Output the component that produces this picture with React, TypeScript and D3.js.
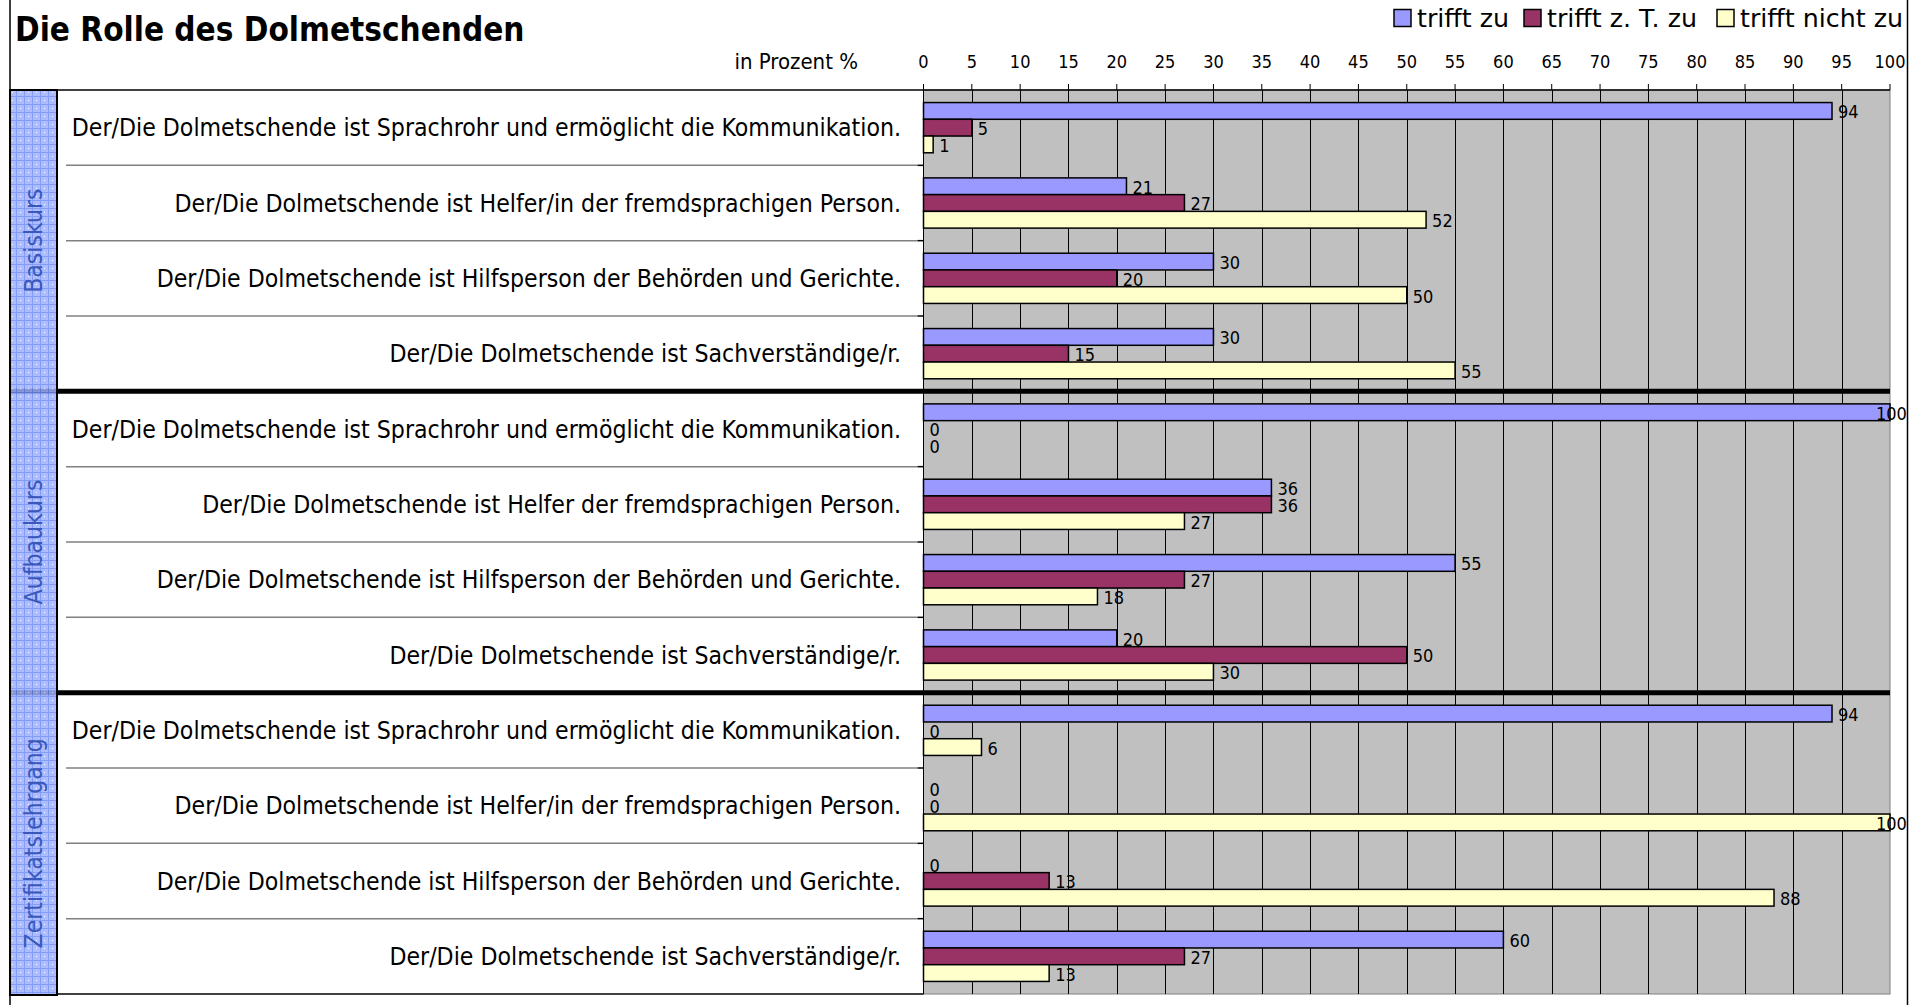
import { useEffect } from 'react';
import * as d3 from 'd3';

const sections = ['Basiskurs', 'Aufbaukurs', 'Zertifikatslehrgang'];

const statements = [
  'Der/Die Dolmetschende ist Sprachrohr und ermöglicht die Kommunikation.',
  'Der/Die Dolmetschende ist Helfer/in der fremdsprachigen Person.',
  'Der/Die Dolmetschende ist Hilfsperson der Behörden und Gerichte.',
  'Der/Die Dolmetschende ist Sachverständige/r.',
  'Der/Die Dolmetschende ist Sprachrohr und ermöglicht die Kommunikation.',
  'Der/Die Dolmetschende ist Helfer der fremdsprachigen Person.',
  'Der/Die Dolmetschende ist Hilfsperson der Behörden und Gerichte.',
  'Der/Die Dolmetschende ist Sachverständige/r.',
  'Der/Die Dolmetschende ist Sprachrohr und ermöglicht die Kommunikation.',
  'Der/Die Dolmetschende ist Helfer/in der fremdsprachigen Person.',
  'Der/Die Dolmetschende ist Hilfsperson der Behörden und Gerichte.',
  'Der/Die Dolmetschende ist Sachverständige/r.',
];

const trifftZu = [94, 21, 30, 30, 100, 36, 55, 20, 94, 0, 0, 60];
const trifftZT = [5, 27, 20, 15, 0, 36, 27, 50, 0, 0, 13, 27];
const trifftNicht = [1, 52, 50, 55, 0, 27, 18, 30, 6, 100, 88, 13];

const seriesNames = ['trifft zu', 'trifft z. T. zu', 'trifft nicht zu'];
const seriesColors = ['#9999ff', '#993366', '#ffffcc'];
const seriesValues = [trifftZu, trifftZT, trifftNicht];

const ticks = d3.range(0, 101, 5);

const W = 1923;
const H = 1005;
const FONT = '"DejaVu Sans Condensed", "DejaVu Sans", sans-serif';
const FONT_WIDE = '"DejaVu Sans", sans-serif';

export default function App() {
  useEffect(() => {
    document.body.style.margin = '0';
  }, []);

  const plotLeft = 923.5;
  const plotRight = 1890;
  const plotTop = 90;
  const plotBottom = 994;
  const bandLeft = 10;
  const bandRight = 57;

  const x = d3.scaleLinear().domain([0, 100]).range([plotLeft, plotRight]);
  const rows = d3.scaleBand<number>().domain(d3.range(statements.length)).range([plotTop, plotBottom]);
  const inner = d3.scaleBand<number>().domain([0, 1, 2]).range([0, rows.bandwidth()]).paddingOuter(0.75);
  const perSection = statements.length / sections.length;
  const sectionY = (s: number) => rows(s * perSection)!;

  const legendX = [1394, 1524, 1717];

  return (
    <svg width={W} height={H} style={{ display: 'block', fontFamily: FONT }}>
      <defs>
        <pattern id="band" width="8" height="8" patternUnits="userSpaceOnUse">
          <rect width="8" height="8" fill="#9db0ff" />
          <path d="M0 0.5H8M0.5 0V8" stroke="#6f8cf2" strokeWidth="1" />
          <rect x="4" y="4" width="1" height="1" fill="#ffffff" />
        </pattern>
      </defs>
      <rect width={W} height={H} fill="#fff" />

      {/* frame */}
      <line x1={10} x2={10} y1={0} y2={H} stroke="#000" strokeWidth={1.5} />
      <line x1={1907.5} x2={1907.5} y1={0} y2={H} stroke="#000" strokeWidth={1.5} />

      {/* title */}
      <text x={15} y={41} fontSize={33} fontWeight="bold" fill="#000">Die Rolle des Dolmetschenden</text>

      {/* legend */}
      {seriesNames.map((n, i) => (
        <g key={n}>
          <rect x={legendX[i]} y={9.5} width={17} height={17} fill={seriesColors[i]} stroke="#000" strokeWidth={1.5} />
          <text x={legendX[i] + 23} y={27} fontSize={25.3} fontFamily={FONT_WIDE} fill="#000">{n}</text>
        </g>
      ))}

      {/* axis header */}
      <text x={858} y={69} fontSize={22} textAnchor="end" fill="#000">in Prozent %</text>
      {ticks.map(t => (
        <g key={t}>
          <text x={x(t)} y={68} fontSize={18} textAnchor="middle" fill="#000">{t}</text>
          <line x1={x(t)} x2={x(t)} y1={84} y2={plotTop} stroke="#000" />
        </g>
      ))}

      {/* plot area */}
      <rect x={plotLeft} y={plotTop} width={plotRight - plotLeft} height={plotBottom - plotTop} fill="#c0c0c0" stroke="#808080" />
      {ticks.slice(1, -1).map(t => (
        <line key={t} x1={Math.round(x(t)) + 0.5} x2={Math.round(x(t)) + 0.5} y1={plotTop} y2={plotBottom} stroke="#000" strokeWidth={1} />
      ))}
      <line x1={plotLeft} x2={plotLeft} y1={plotTop} y2={plotBottom} stroke="#000" />
      <line x1={bandRight} x2={plotRight} y1={plotTop} y2={plotTop} stroke="#000" strokeWidth={1.5} />
      <line x1={bandRight} x2={plotLeft} y1={plotBottom} y2={plotBottom} stroke="#000" strokeWidth={1.5} />

      {/* row separators & category labels */}
      {statements.map((s, i) => {
        const y0 = rows(i)!;
        const cy = y0 + rows.bandwidth() / 2;
        return (
          <g key={i}>
            {i % perSection !== 0 && (
              <>
                <line x1={66} x2={plotLeft - 6} y1={y0} y2={y0} stroke="#808080" strokeWidth={1.5} />
                <line x1={plotLeft - 6} x2={plotLeft} y1={y0} y2={y0} stroke="#000" strokeWidth={1.5} />
              </>
            )}
            <text x={901} y={cy} fontSize={24.6} textAnchor="end" dominantBaseline="central" fill="#000">{s}</text>
          </g>
        );
      })}

      {/* bars */}
      {statements.map((_, i) => (
        <g key={i} transform={`translate(0,${rows(i)})`}>
          {seriesValues.map((vals, k) => {
            const v = vals[i];
            const by = inner(k)!;
            const bh = inner.bandwidth();
            return (
              <g key={k}>
                {v > 0 && (
                  <rect x={x(0)} y={by} width={x(v) - x(0)} height={bh} fill={seriesColors[k]} stroke="#000" strokeWidth={1.5} />
                )}
                <text x={Math.min(x(v) + 6, 1876)} y={by + bh / 2 + 1} fontSize={18} dominantBaseline="central" fill="#000">{v}</text>
              </g>
            );
          })}
        </g>
      ))}

      {/* section separators */}
      {sections.slice(1).map((s, i) => (
        <line key={s} x1={10} x2={plotRight} y1={sectionY(i + 1)} y2={sectionY(i + 1)} stroke="#000" strokeWidth={5} />
      ))}

      {/* section band */}
      <rect x={bandLeft} y={plotTop} width={bandRight - bandLeft} height={plotBottom - plotTop + 1} fill="url(#band)" fillOpacity={0.85} stroke="#000" strokeWidth={2} />
      {sections.map((s, i) => {
        const y0 = sectionY(i);
        const y1 = i === sections.length - 1 ? plotBottom : sectionY(i + 1);
        const cx = (bandLeft + bandRight) / 2;
        const cy = (y0 + y1) / 2;
        return (
          <text key={s} transform={`translate(${cx},${cy}) rotate(-90)`} fontSize={24.5} textAnchor="middle" dominantBaseline="central" fill="#3a58bc">{s}</text>
        );
      })}
    </svg>
  );
}
